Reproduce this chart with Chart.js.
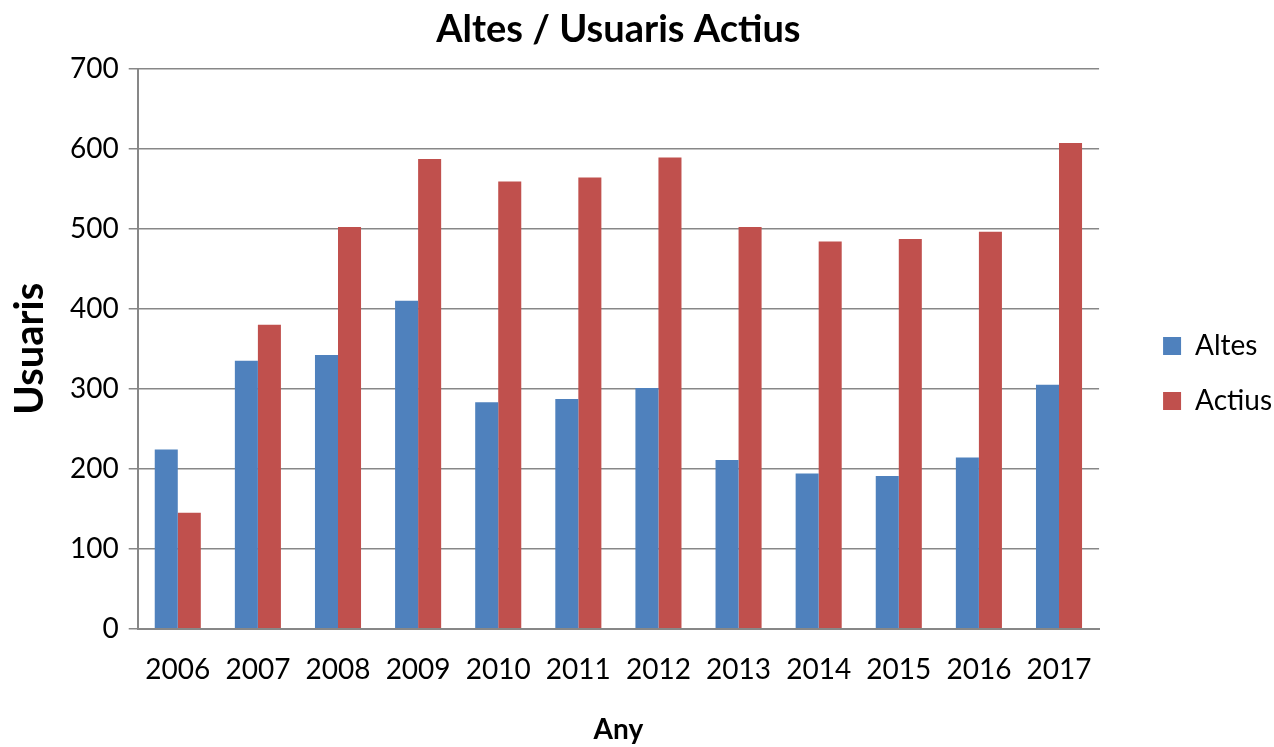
<!DOCTYPE html>
<html>
<head>
<meta charset="utf-8">
<script src="https://cdn.jsdelivr.net/npm/chart.js@4/dist/chart.umd.min.js"></script>
<style>
  body { margin: 0; background: #fff; }
  #wrap { width: 1274px; height: 747px; }
</style>
</head>
<body>
<div id="wrap"><canvas id="myChart" width="1274" height="747"></canvas></div>
<script>
  // yearly user counts
  const years = ["2006", "2007", "2008", "2009", "2010", "2011", "2012", "2013", "2014", "2015", "2016", "2017"];
  const altes = [224, 335, 342, 410, 283, 287, 301, 211, 194, 191, 214, 305];
  const actius = [145, 380, 502, 587, 559, 564, 589, 502, 484, 487, 496, 607];

  const gridGrey = "#878787";
  const fontName = "Lato";

  const ctx = document.getElementById("myChart");

  new Chart(ctx, {
    type: "bar",
    data: {
      labels: years,
      datasets: [
        {
          label: "Altes",
          data: altes,
          backgroundColor: "#4F81BD",
          categoryPercentage: 0.575,
          barPercentage: 1,
        },
        {
          label: "Actius",
          data: actius,
          backgroundColor: "#C0504D",
          categoryPercentage: 0.575,
          barPercentage: 1,
        },
      ],
    },
    options: {
      responsive: false,
      animation: false,
      layout: {
        padding: { left: 6, right: -8, top: 0, bottom: 0 },
      },
      plugins: {
        title: {
          display: true,
          text: "Altes / Usuaris Actius",
          fullSize: false,
          color: "#000",
          font: { family: fontName, size: 38, weight: "bold" },
          padding: { top: 7, bottom: 16 },
        },
        legend: {
          position: "right",
          labels: {
            boxWidth: 18,
            boxHeight: 18,
            padding: 27,
            color: "#000",
            font: { family: fontName, size: 28 },
          },
        },
        tooltip: { enabled: false },
      },
      scales: {
        x: {
          grid: { display: false },
          border: { display: true, color: gridGrey, width: 2 },
          ticks: {
            color: "#000",
            padding: 16,
            font: { family: fontName, size: 28 },
          },
          title: {
            display: true,
            text: "Any",
            color: "#000",
            font: { family: fontName, size: 28, weight: "bold" },
            padding: { top: 11, bottom: 0 },
          },
        },
        y: {
          min: 0,
          max: 700,
          ticks: {
            stepSize: 100,
            color: "#000",
            padding: 10,
            font: { family: fontName, size: 28 },
          },
          grid: {
            color: gridGrey,
            lineWidth: 1.5,
            tickLength: 9,
            drawTicks: true,
          },
          border: { display: true, color: gridGrey, width: 2 },
          title: {
            display: true,
            text: "Usuaris",
            color: "#000",
            font: { family: fontName, size: 40, weight: "bold" },
            padding: { top: 0, bottom: 6 },
          },
        },
        // empty axis that only keeps a gap between the plot and the legend
        gap: {
          type: "linear",
          position: "right",
          display: true,
          grid: { display: false },
          border: { display: false },
          ticks: { display: false },
          afterFit: (scale) => {
            scale.width = 37;
          },
        },
      },
    },
  });
</script>
</body>
</html>
